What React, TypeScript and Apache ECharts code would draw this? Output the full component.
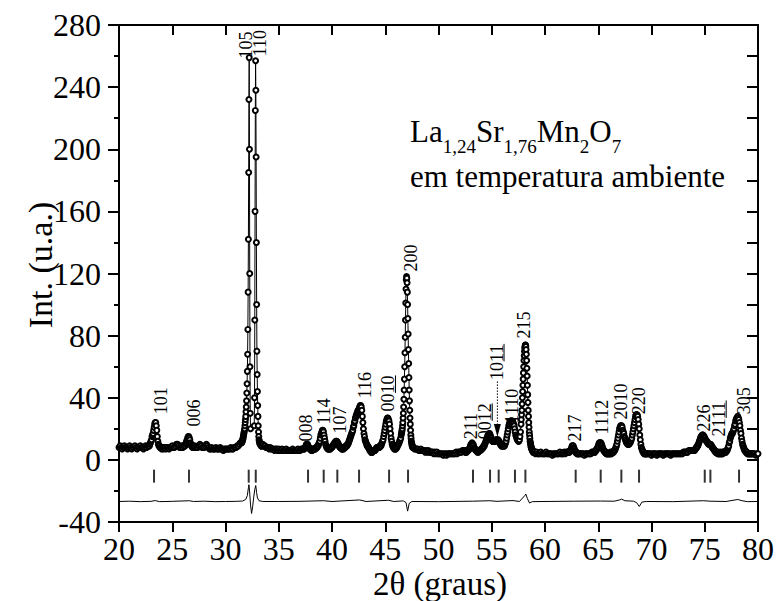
import React, { useEffect, useRef } from "react";
import * as echarts from "echarts";

const FONT = "'Liberation Serif', 'Times New Roman', serif";

// ---------- Observed intensities (read from the picture) ----------
// each segment: start 2θ, step, intensities
const obsA = [8, 9, 8, 7, 8, 9, 8, 8, 7, 8, 9, 8, 7, 8, 8, 9, 8, 7, 8, 8, 9, 8, 8, 7, 8, 9, 8, 9];
const obsB = [9, 9, 10, 11, 12, 13, 15, 16, 17, 19, 21, 23, 24, 24, 22, 19, 15, 12, 10, 9, 9, 8, 8, 8, 7, 8, 8, 7, 8];
const obsC = [8, 7, 8, 8, 7, 8, 8, 9, 8, 8, 9, 10, 10, 9, 8, 8, 9, 8, 9];
const obsD = [9, 9, 10, 11, 12, 13, 14, 15, 15, 14, 13, 11, 10, 9, 9, 8, 9, 8, 8, 9, 8, 8];
const obsE = [8, 8, 9, 10, 9, 8, 8, 8, 9, 10, 9, 8, 7, 7, 8, 7, 7, 7, 8, 7, 7, 7, 8, 7, 7, 6, 7, 7, 7, 7, 7, 7, 8, 7, 7, 8, 8, 8, 9, 9, 10, 11];
const obsF = [11, 11, 12, 12, 13, 13, 14, 15, 16, 17, 18, 19, 20, 22, 24, 26, 28, 31, 34, 38, 43, 49, 57, 68, 84, 108, 142, 185, 232, 259, 200, 120, 60, 30, 20];
const obsG = [22, 40, 90, 160, 225, 257, 238, 195, 140, 100, 70, 55, 44, 35, 28, 22, 18, 15, 13, 12, 11, 11, 10, 10, 10, 10, 9, 9, 9];
const obsH = [10, 9, 9, 8, 8, 8, 7, 8, 7, 7, 7, 6, 7, 7, 6, 7, 6, 6, 7, 6, 6, 6, 7, 6, 6, 6, 6, 6, 7, 6, 6, 6, 6, 7, 6, 6, 7, 7, 7];
const obsI = [7, 7, 8, 8, 9, 10, 10, 10, 9, 8, 8, 7, 7, 7, 6, 7, 6, 7, 7, 7, 7, 7, 7, 8, 8, 8, 9, 9, 10, 11, 12, 14, 16, 17, 18, 19, 19, 18, 16, 14, 12, 10, 9, 8, 8, 7, 7, 7, 7, 7, 7, 8, 8, 8, 9, 9, 10, 10, 11, 11, 12, 12, 12, 11, 11, 10, 9, 9, 8, 8, 8, 7, 7, 7, 8, 7, 8, 8, 8, 9, 9, 9, 10, 10];
const obsJ = [11, 12, 13, 14, 15, 16, 17, 18, 19, 21, 22, 24, 25, 27, 28, 29, 30, 31, 32, 32, 33, 34, 35, 35, 34, 32, 28, 24, 20, 17, 15, 13, 12, 11, 10, 9, 9, 8, 8, 7, 6, 6, 5, 5, 5, 5, 6, 6, 6, 6];
const obsK = [6, 7, 7, 8, 8, 8, 8, 8, 8, 9, 9, 9, 10, 11, 12, 13, 15, 17, 19, 21, 23, 25, 26, 27, 27, 26, 25, 23, 20, 17, 14, 12, 10, 9, 8, 8, 7, 7, 7, 7, 8, 8, 9, 10, 10, 11, 12, 13, 14];
const obsL = [16, 17, 18, 19, 20, 22, 24, 27, 30, 34, 39, 45, 52, 60, 69, 79, 90, 101, 110, 116, 118, 117, 114, 108, 100, 91, 81, 71, 62, 53, 45, 38, 32, 27, 23, 19, 16, 14, 12, 11, 10, 9, 9, 8, 8];
const obsM = [8, 7, 7, 7, 7, 6, 6, 7, 6, 6, 6, 5, 6, 5, 6, 5, 5, 5, 5, 4, 5, 4, 5, 4, 4, 4, 4, 4, 3, 4, 4, 3, 4, 4, 4, 4, 4, 4, 4, 4, 5, 4, 5, 5, 5, 5, 6, 6, 6];
const obsN = [5, 5, 6, 5, 6, 6, 6, 7, 7, 8, 9, 10, 10, 11, 10, 10, 9, 8, 7, 7, 6, 6, 6, 5, 6, 5, 6, 6, 6, 6, 7, 7, 7, 8, 8, 9, 9, 10, 11, 12, 13, 14, 15, 16, 16, 17, 17, 16, 15, 14, 13, 12, 12, 12, 12, 12, 12, 12, 13, 13, 13, 13, 13, 12, 12, 11, 10, 10, 9, 9, 9, 9, 9, 9, 9, 10, 11, 12, 14, 16, 18, 20, 22, 23, 24, 25, 25, 25, 25, 25, 24, 23, 22, 20, 18, 16, 15, 14, 13, 13, 12, 12, 13, 15, 18, 23];
const obsO = [26, 29, 32, 36, 40, 44, 48, 52, 56, 60, 64, 67, 70, 72, 73, 74, 74, 73, 71, 68, 64, 59, 54, 48, 42, 37, 32, 28, 24, 21, 18, 16, 14, 12, 11, 10, 9, 8, 8, 7, 7, 6, 6, 6, 5, 5, 5, 5, 5, 5];
const obsP = [4, 5, 4, 4, 4, 5, 4, 4, 4, 4, 5, 4, 4, 4, 4, 4, 3, 4, 4, 4, 4, 4, 4, 5, 4, 4, 4, 5, 4, 5, 5, 5];
const obsQ = [5, 5, 6, 6, 7, 8, 9, 9, 9, 8, 7, 6, 5, 5, 5, 4, 4, 4, 4, 4];
const obsR = [4, 4, 4, 4, 3, 4, 4, 4, 4, 4, 4, 5, 5, 5];
const obsS = [5, 5, 6, 6, 7, 7, 8, 9, 10, 11, 11, 11, 11, 10, 9, 8, 7, 6, 6, 5, 5, 5, 4, 4, 4, 4, 4, 4, 4, 4, 5, 4, 4, 5, 5, 5, 5, 6, 6, 7, 8, 9, 10, 12, 14, 16, 18, 20, 21, 22, 22, 22, 21, 19, 18, 17, 15, 14, 13, 12, 11, 11, 10, 10, 10, 10, 11, 11, 12, 13, 14, 16, 18, 20, 22, 24, 26, 28, 29, 29, 29, 28, 26, 23, 20, 16, 13, 10, 8, 7, 6, 5, 5, 4, 4, 4, 4, 4, 4, 4];
const obsT = [4, 4, 4, 3, 4, 4, 4, 4, 3, 4, 4, 4, 4, 4, 3, 4, 4, 4, 4, 4, 4, 3, 4, 4, 4, 4, 4, 4, 4, 4, 4, 4, 4, 5, 5, 5, 5, 5, 6, 6];
const obsU = [6, 6, 6, 6, 6, 6, 6, 6, 6, 7, 7, 8, 8, 9, 9, 10, 11, 12, 13, 14, 15, 15, 16, 16, 16, 15, 15, 14, 13, 13, 12, 12, 11, 11, 10, 10, 10, 10, 10, 9, 9, 8, 8, 7, 7, 6, 6, 5, 5, 5, 5, 4, 5, 4, 4, 4, 5, 4, 4, 4, 5, 4, 5, 5, 5, 5, 5, 5, 6, 6, 7, 8, 9, 11, 12, 14, 15, 16, 17, 17, 18, 19, 20, 22, 23, 25, 26, 27, 27, 28, 27, 26, 24, 22, 19, 17, 14, 12, 10, 9, 8, 7, 6, 6, 5, 5, 5, 4, 4, 4, 4, 4, 4, 4, 4, 4, 4, 4];
const obsV = [4, 4, 3, 4, 4];

const OBS_SEGMENTS: Array<[number, number, number[]]> = [
  [20.0, 0.1, obsA],
  [22.8, 0.05, obsB],
  [24.3, 0.1, obsC],
  [26.15, 0.05, obsD],
  [27.3, 0.1, obsE],
  [31.5, 0.025, obsF],
  [32.7, 0.025, obsG],
  [33.5, 0.1, obsH],
  [37.35, 0.05, obsI],
  [41.55, 0.05, obsJ],
  [44.05, 0.05, obsK],
  [46.5, 0.025, obsL],
  [47.65, 0.1, obsM],
  [52.5, 0.05, obsN],
  [57.775, 0.025, obsO],
  [59.1, 0.1, obsP],
  [62.25, 0.05, obsQ],
  [63.3, 0.1, obsR],
  [64.65, 0.05, obsS],
  [69.7, 0.1, obsT],
  [73.65, 0.05, obsU],
  [79.6, 0.1, obsV],
];

// ---------- Difference curve (obs - calc, offset) ----------
const diffCurve: Array<[number, number]> = [
  [20, -26.8], [21, -26.6], [22, -26.9], [23, -26.7], [23.4, -26.2], [23.8, -26.9], [25, -26.7],
  [26.6, -26.3], [27, -26.8], [28, -26.6], [29, -26.9], [30, -26.8], [31, -26.7], [31.6, -26.5],
  [31.9, -25.5], [32.05, -23], [32.15, -18], [32.2, -16], [32.26, -20], [32.35, -29], [32.45, -34.5],
  [32.55, -30], [32.65, -24], [32.75, -19], [32.84, -16.5], [32.92, -21], [33.0, -24.5], [33.15, -26.3],
  [33.5, -26.8], [35, -26.8], [37, -26.7], [39.2, -26.3], [40, -26.8], [42.6, -25.8], [43.2, -26.8],
  [45.3, -26], [45.8, -26.8], [46.7, -26.4], [46.95, -27.5], [47.1, -33], [47.25, -28], [47.5, -26.8],
  [50, -26.9], [53.2, -26.6], [54.8, -26.3], [55.5, -26.7], [57.0, -26.2], [57.6, -26.8], [58.1, -23],
  [58.2, -22], [58.35, -25], [58.55, -27.8], [58.8, -26.9], [60, -26.8], [62.7, -26.6], [65.2, -26.5],
  [66.5, -26.6], [67.0, -25.8], [67.2, -25.3], [67.5, -26.3], [68.3, -26.6], [68.6, -27.5], [68.85, -30],
  [69.1, -27.2], [69.5, -26.8], [72, -26.9], [74.9, -26.3], [75.5, -26.6], [77, -26.8], [78.1, -25.5],
  [78.5, -26.3], [79, -26.9], [80, -26.8],
];

// ---------- Bragg reflection positions ----------
const braggPositions = [23.29, 26.57, 32.18, 32.84, 37.75, 39.22, 40.5, 42.54, 45.36, 47.14, 53.24, 54.84, 55.65, 57.18, 58.16, 62.88, 65.23, 67.17, 68.83, 75.0, 75.53, 78.22];
const braggLevel = -10.5;

// ---------- hkl labels ----------
const hklText = ["101", "006", "105", "110", "008", "114", "107", "116", "0010", "200", "211", "0012", "1011", "1110", "215", "217", "1112", "2010", "220", "226", "2111", "305"];
const hklX = [23.92, 27.04, 31.96, 33.21, 37.53, 39.22, 40.72, 43.07, 45.26, 47.46, 53.09, 54.34, 55.45, 56.94, 58.03, 62.79, 65.39, 67.17, 68.8, 74.93, 76.31, 78.66];
const hklY = [29.3, 21.5, 258.5, 259.8, 11.9, 22.8, 17.0, 39.6, 31.2, 121.3, 13.2, 13.2, 51.5, 23.5, 78.2, 11.9, 16.4, 26.0, 29.3, 18.3, 15.1, 29.3];
const hklUnderline = [0, 0, 0, 0, 0, 0, 0, 0, 2, 0, 0, 2, 2, 0, 0, 0, 0, 0, 0, 0, 2, 0];

// dotted arrow pointing at the 1011 reflection: [2θ, from, to]
const arrow1011 = [[55.53, 50.5, 14.8]];

// ---------- Formula annotation: [text, isSubscript] ----------
const formulaParts: Array<[string, boolean]> = [
  ["La", false], ["1,24", true], ["Sr", false], ["1,76", true],
  ["Mn", false], ["2", true], ["O", false], ["7", true],
];
const subtitle = "em temperatura ambiente";

export default function App() {
  const ref = useRef<HTMLDivElement>(null);

  useEffect(() => {
    if (!ref.current) return;
    const chart = echarts.init(ref.current, null, { renderer: "svg" });

    const obsData = OBS_SEGMENTS.flatMap(([x0, dx, ys]) =>
      ys.map((y, i) => [Math.round((x0 + i * dx) * 1000) / 1000, y])
    );

    // formula layout with measured widths
    const mainSize = 31;
    const subSize = 19;
    const canvas = document.createElement("canvas");
    const ctx = canvas.getContext("2d")!;
    let fx = 410;
    const mainBaseline = 140;
    const subBaseline = 151.5;
    const formulaEls: any[] = formulaParts.map(([t, sub]) => {
      const size = sub ? subSize : mainSize;
      ctx.font = `${size}px ${FONT}`;
      const w = ctx.measureText(t).width;
      const el = {
        type: "text",
        x: fx,
        y: (sub ? subBaseline : mainBaseline) + 0.216 * size,
        style: { text: t, font: `${size}px ${FONT}`, fill: "#000", align: "left", verticalAlign: "bottom" },
      };
      fx += w;
      return el;
    });

    const axisLineStyle = { color: "#000", width: 2 };

    chart.setOption({
      animation: false,
      backgroundColor: "#fff",
      textStyle: { fontFamily: FONT, color: "#000" },
      grid: { left: 119, right: 20, top: 25, bottom: 79, containLabel: false },
      xAxis: [
        {
          type: "value",
          position: "bottom",
          min: 20,
          max: 80,
          interval: 5,
          axisLine: { show: true, onZero: false, lineStyle: axisLineStyle },
          axisTick: { show: true, inside: false, length: 10, lineStyle: { color: "#000", width: 2 } },
          axisLabel: { show: true, fontSize: 32, fontFamily: FONT, color: "#000", margin: 11 },
          splitLine: { show: false },
        },
        {
          type: "value",
          position: "top",
          min: 20,
          max: 80,
          interval: 5,
          axisLine: { show: true, onZero: false, lineStyle: axisLineStyle },
          axisTick: { show: true, inside: true, length: 10, lineStyle: { color: "#000", width: 2 } },
          axisLabel: { show: false },
          splitLine: { show: false },
        },
      ],
      yAxis: [
        {
          type: "value",
          position: "left",
          min: -40,
          max: 280,
          interval: 40,
          axisLine: { show: true, onZero: false, lineStyle: axisLineStyle },
          axisTick: { show: true, inside: false, length: 11, lineStyle: { color: "#000", width: 2 } },
          minorTick: { show: true, splitNumber: 2, length: 5, lineStyle: { color: "#000", width: 2 } },
          axisLabel: { show: true, fontSize: 32, fontFamily: FONT, color: "#000", margin: 18 },
          splitLine: { show: false },
        },
        {
          type: "value",
          position: "right",
          min: -40,
          max: 280,
          interval: 20,
          axisLine: { show: true, onZero: false, lineStyle: axisLineStyle },
          axisTick: { show: true, inside: true, length: 11, lineStyle: { color: "#000", width: 2 } },
          axisLabel: { show: false },
          splitLine: { show: false },
        },
      ],
      graphic: [
        ...formulaEls,
        {
          type: "text",
          x: 410,
          y: 176,
          style: { text: subtitle, font: `31px ${FONT}`, fill: "#000", align: "left", verticalAlign: "middle" },
        },
        {
          type: "text",
          x: 40,
          y: 265,
          rotation: Math.PI / 2,
          style: { text: "Int. (u.a.)", font: `34px ${FONT}`, fill: "#000", align: "center", verticalAlign: "middle" },
        },
        {
          type: "text",
          x: 440,
          y: 584,
          style: { text: "2θ (graus)", font: `33px ${FONT}`, fill: "#000", align: "center", verticalAlign: "middle" },
        },
      ],
      series: [
        {
          name: "diff",
          type: "line",
          xAxisIndex: 0,
          yAxisIndex: 0,
          data: diffCurve,
          symbol: "none",
          lineStyle: { color: "#000", width: 1 },
          emphasis: { disabled: true },
          z: 2,
        },
        {
          name: "bragg",
          type: "scatter",
          xAxisIndex: 0,
          yAxisIndex: 0,
          data: braggPositions.map((x) => [x, braggLevel]),
          symbol: "rect",
          symbolSize: [2, 13],
          itemStyle: { color: "#000" },
          emphasis: { disabled: true },
          z: 2,
        },
        {
          name: "obs",
          type: "line",
          xAxisIndex: 0,
          yAxisIndex: 0,
          data: obsData,
          symbol: "emptyCircle",
          symbolSize: 5,
          showSymbol: true,
          showAllSymbol: true,
          itemStyle: { color: "#000", borderWidth: 1 },
          lineStyle: { color: "#000", width: 1 },
          emphasis: { disabled: true },
          z: 3,
        },
        {
          name: "hkl",
          type: "custom",
          xAxisIndex: 0,
          yAxisIndex: 0,
          clip: false,
          z: 5,
          data: hklX.map((x, i) => [x, hklY[i], i]),
          renderItem: (params: any, api: any) => {
            const i = api.value(2);
            const p = api.coord([api.value(0), api.value(1)]);
            const txt = hklText[i];
            const u = hklUnderline[i];
            const children: any[] = [
              {
                type: "text",
                style: { text: txt, x: 0, y: 0, font: `18px ${FONT}`, fill: "#000", align: "left", verticalAlign: "middle" },
              },
            ];
            if (u > 0) {
              const n = txt.length;
              children.push({
                type: "line",
                shape: { x1: (n - u) * 9 + 0.5, y1: 7.5, x2: n * 9, y2: 7.5 },
                style: { stroke: "#000", lineWidth: 1 },
              });
            }
            return { type: "group", x: p[0], y: p[1], rotation: Math.PI / 2, children };
          },
        },
        {
          name: "arrow",
          type: "custom",
          xAxisIndex: 0,
          yAxisIndex: 0,
          clip: false,
          z: 5,
          data: arrow1011,
          renderItem: (params: any, api: any) => {
            const a = api.coord([api.value(0), api.value(1)]);
            const b = api.coord([api.value(0), api.value(2)]);
            const head = 13;
            return {
              type: "group",
              children: [
                {
                  type: "line",
                  shape: { x1: a[0], y1: a[1], x2: b[0], y2: b[1] - head + 1 },
                  style: { stroke: "#000", lineWidth: 1, lineDash: [1.5, 1.5] },
                },
                {
                  type: "polygon",
                  shape: { points: [[b[0] - 3.5, b[1] - head], [b[0] + 3.5, b[1] - head], [b[0], b[1]]] },
                  style: { fill: "#000" },
                },
              ],
            };
          },
        },
      ],
    });

    return () => chart.dispose();
  }, []);

  return (
    <div
      ref={ref}
      style={{ position: "fixed", left: 0, top: 0, width: 778, height: 601, background: "#fff" }}
    />
  );
}
